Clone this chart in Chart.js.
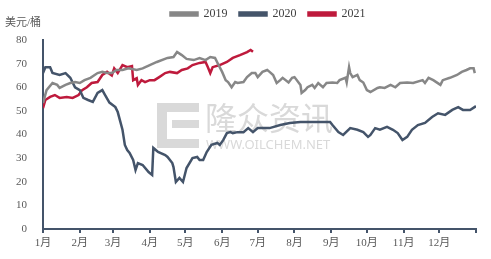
<html>
<head>
    <script src="https://cdn.jsdelivr.net/npm/chart.js"></script>
    <style>
        body { margin: 0; background: #fff; }
        #wrap { width: 491px; height: 259px; position: relative; }
    </style>
</head>
<body>
    <div id="wrap"><canvas id="chart"></canvas></div>
    <script>
        // eixo x: dia do ano (0-365), rótulos nos inícios de mês
        const monthLabels = ['1月', '2月', '3月', '4月', '5月', '6月', '7月', '8月', '9月', '10月', '11月', '12月', ''];
        const monthStarts = [0, 31, 59, 90, 120, 151, 181, 212, 243, 273, 304, 334, 365];
        const yTicks = [0, 10, 20, 30, 40, 50, 60, 70, 80];

        const days2019 = [0, 3, 8, 12, 14, 19, 23, 27, 31, 35, 40, 46, 50, 54, 58, 62, 67, 72, 79, 84, 90, 96, 105, 110, 113, 117, 121, 127, 132, 137, 141, 145, 148, 151, 154, 156, 159, 162, 164, 169, 172, 176, 179, 181, 185, 189, 191, 194, 197, 200, 202, 207, 210, 212, 217, 218, 221, 223, 227, 229, 232, 236, 239, 244, 248, 250, 255, 256, 258, 259, 261, 265, 267, 270, 273, 276, 282, 284, 288, 293, 297, 301, 307, 312, 320, 322, 325, 329, 335, 337, 343, 349, 353, 357, 360, 363, 364];
        const price2019 = [53.3, 58.8, 61.8, 61, 59.7, 61, 61.8, 62.2, 61.8, 63, 64, 66, 66.5, 66, 66, 67.3, 67.3, 68, 67.3, 68, 69.4, 70.7, 72.4, 72.8, 74.9, 73.6, 72, 71.5, 72.4, 71.5, 72.8, 72.4, 69.4, 66.5, 63, 62.2, 60, 62.2, 61.8, 62.2, 64.3, 66, 66, 64.3, 66.5, 67.3, 66.5, 65.2, 61.8, 63, 64, 62, 64, 64.3, 61, 57.6, 58.8, 60, 61, 59.7, 61.8, 60, 61.8, 62, 61.8, 63, 64, 62, 68.5, 66, 64.3, 65.2, 63, 62, 58.8, 58, 59.7, 60, 59.7, 61, 60, 61.8, 62, 61.8, 63, 61.8, 64, 63, 61, 63, 64, 65.2, 66.5, 67.3, 68, 68, 66];

        const days2020 = [0, 2, 6, 8, 14, 19, 23, 27, 31, 34, 38, 42, 46, 50, 52, 56, 61, 63, 67, 69, 71, 73, 76, 78, 80, 84, 89, 92, 93, 97, 103, 105, 109, 110, 112, 115, 118, 121, 126, 130, 132, 135, 138, 142, 147, 149, 152, 155, 158, 160, 164, 169, 173, 177, 181, 183, 191, 200, 208, 217, 225, 234, 242, 244, 249, 253, 259, 265, 270, 274, 276, 280, 284, 290, 295, 299, 303, 307, 311, 316, 322, 328, 333, 339, 345, 350, 354, 360, 365];
        const price2020 = [66, 68.5, 68.5, 66, 65.2, 66, 64, 60, 58.8, 55.5, 54.6, 53.8, 57.6, 58.8, 57, 53.5, 51.6, 49.5, 42, 35.6, 33.4, 32.2, 29.2, 25, 27.9, 27.1, 24.1, 22.9, 34.3, 32.6, 31.3, 30.5, 27.9, 26.2, 19.9, 21.6, 19.9, 25.8, 30, 30.5, 29.2, 29.2, 32.6, 35.6, 36.4, 35.6, 37.7, 40.6, 41, 40.6, 41, 41, 42.7, 41, 42.7, 42.7, 42.7, 44, 44.9, 45.3, 45.3, 45.3, 45.3, 44, 41, 39.8, 42.7, 42, 41, 39, 39.8, 42.7, 42, 43.2, 42, 40.6, 37.7, 39, 42, 44, 44.9, 47.4, 49, 48.3, 50.4, 51.6, 50.4, 50.4, 52];

        const days2021 = [0, 2, 6, 10, 14, 20, 25, 30, 33, 37, 41, 46, 50, 54, 58, 60, 63, 67, 71, 75, 76, 79, 80, 83, 86, 90, 94, 98, 103, 107, 113, 117, 122, 126, 132, 137, 139, 141, 143, 149, 155, 160, 166, 172, 175, 177];
        const price2021 = [51.2, 54.6, 55.9, 56.7, 55.5, 55.9, 55.5, 56.7, 58.8, 60, 61.8, 62.2, 65.2, 66.5, 65, 68, 66, 69.4, 68.5, 69, 63, 63.8, 61, 63, 62.2, 63, 63, 64.3, 66, 66.5, 66, 67.3, 68, 69.4, 70.3, 70.7, 68.5, 66, 68.5, 69.4, 70.7, 72.4, 73.6, 74.9, 75.8, 75];

        function toPoints(days, vals) {
            return days.map((d, i) => ({ x: d, y: vals[i] }));
        }

        const serif = "'Liberation Serif', 'Noto Sans CJK SC', serif";

        // legenda mais alta e deslocada para a direita, como no original
        const legendGap = {
            id: 'legendGap',
            beforeInit(chart) {
                const fit = chart.legend.fit;
                chart.legend.fit = function () {
                    fit.bind(chart.legend)();
                    this.height += 10;
                };
            },
            afterLayout(chart) {
                chart.legend.left += 30;
                chart.legend.right += 30;
            }
        };

        // marca d'água e unidade do eixo y
        const extras = {
            id: 'extras',
            beforeDatasetsDraw(chart) {
                const ctx = chart.ctx;
                ctx.save();
                ctx.fillStyle = '#d9d9d9';
                ctx.fillRect(157, 103, 42, 9);
                ctx.fillRect(157, 112, 10, 36);
                ctx.fillRect(157, 139, 42, 9);
                ctx.fillRect(172, 120, 27, 8);
                ctx.font = "32px 'Noto Sans CJK SC'";
                ctx.textBaseline = 'middle';
                ctx.fillText('隆众资讯', 205, 118);
                ctx.font = "13px 'Noto Sans'";
                ctx.fillText('WWW.OILCHEM.NET', 206, 145);
                ctx.restore();
            },
            afterDraw(chart) {
                const ctx = chart.ctx;
                ctx.save();
                ctx.fillStyle = '#595959';
                ctx.font = "11px " + serif;
                ctx.textBaseline = 'middle';
                ctx.fillText('美元/桶', 5, 23);
                ctx.restore();
            }
        };

        const ctx = document.getElementById('chart').getContext('2d');
        new Chart(ctx, {
            type: 'line',
            data: {
                datasets: [
                    { label: '2019', data: toPoints(days2019, price2019), borderColor: '#878787', backgroundColor: '#878787' },
                    { label: '2020', data: toPoints(days2020, price2020), borderColor: '#44546a', backgroundColor: '#44546a' },
                    { label: '2021', data: toPoints(days2021, price2021), borderColor: '#be1a3c', backgroundColor: '#be1a3c' }
                ]
            },
            options: {
                responsive: true,
                maintainAspectRatio: false,
                animation: false,
                layout: { padding: { top: -4, right: 15, left: 0, bottom: 0 } },
                elements: {
                    point: { radius: 0 },
                    line: { borderWidth: 2.5, tension: 0 }
                },
                plugins: {
                    tooltip: { enabled: false },
                    legend: {
                        position: 'top',
                        labels: {
                            boxWidth: 27,
                            boxHeight: 3,
                            padding: 12,
                            color: '#404040',
                            font: { family: serif, size: 12 }
                        }
                    }
                },
                scales: {
                    x: {
                        type: 'linear',
                        min: 0,
                        max: 365,
                        afterBuildTicks: axis => { axis.ticks = monthStarts.map(v => ({ value: v })); },
                        afterFit: axis => { axis.height = 30; },
                        grid: { display: true, drawOnChartArea: false, drawTicks: true, tickLength: 4, color: '#44546a', lineWidth: 2 },
                        border: { display: true, color: '#44546a', width: 2 },
                        ticks: {
                            autoSkip: false,
                            maxRotation: 0,
                            padding: 4,
                            color: '#595959',
                            font: { family: serif, size: 11 },
                            callback: v => monthLabels[monthStarts.indexOf(v)]
                        }
                    },
                    y: {
                        min: 0,
                        max: 80,
                        afterBuildTicks: axis => { axis.ticks = yTicks.map(v => ({ value: v })); },
                        afterFit: axis => { axis.width = 43; },
                        grid: { display: false },
                        border: { display: true, color: '#44546a', width: 2 },
                        ticks: {
                            padding: 8,
                            color: '#595959',
                            font: { family: serif, size: 11 }
                        }
                    }
                }
            },
            plugins: [legendGap, extras]
        });
    </script>
</body>
</html>
